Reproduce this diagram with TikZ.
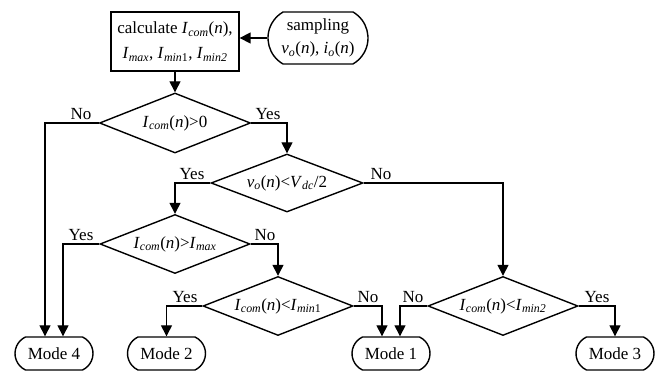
\documentclass[tikz,border=0pt]{standalone}
\usepackage{fontspec}
\setmainfont{Liberation Serif}
\usetikzlibrary{shapes.geometric,shapes.misc,arrows.meta}

% italic symbol with italic subscript
\newcommand\sym[2]{\textit{#1}\textsubscript{\textit{#2}}}
\newcommand\Icom{\sym{I}{com}(\textit{n})}

\begin{document}
\begin{tikzpicture}[x=1pt,y=-1pt,
  every node/.style={font=\fontsize{17}{26}\selectfont},
  flow/.style={line width=1.4pt,-{Triangle[length=11pt,width=11pt]}},
  procbox/.style={draw,line width=1.3pt,rectangle,minimum width=128pt,minimum height=59pt,inner sep=0pt,align=center},
  termbox/.style={draw,line width=1.4pt,rounded rectangle,rounded rectangle arc length=130,minimum width=78pt,minimum height=33pt,inner sep=0pt,align=center},
  decision/.style={draw,line width=1.4pt,diamond,minimum width=150pt,minimum height=59pt,inner sep=0pt},
  lbl/.style={anchor=base,inner sep=0pt}]
\useasboundingbox (0,0) rectangle (670,371);

% process and input
\node[procbox] (calc) at (175,41.5) {calculate \Icom,\\[-1pt] \sym{I}{max}, \textit{I}\textsubscript{\textit{min}1}, \textit{I}\textsubscript{\textit{min2}}};
\node[termbox,minimum width=100pt,minimum height=52pt,rounded rectangle arc length=120] (samp) at (318,38) {sampling\\[-3pt] \sym{v}{o}(\textit{n}), \sym{i}{o}(\textit{n})};

% decisions
\node[decision,minimum width=151pt,minimum height=60pt,label={center:\Icom>0}] (d1) at (175,123) {};
\node[decision,minimum width=152pt,minimum height=58pt,label={center:\sym{v}{o}(\textit{n})<\sym{V}{dc}/2}] (d2) at (287,183) {};
\node[decision,label={center:\Icom>\sym{I}{max}}] (d3) at (175,244) {};
\node[decision,label={center:\Icom<\textit{I}\textsubscript{\textit{min}1}}] (d5) at (278,306) {};
\node[decision,label={center:\Icom<\textit{I}\textsubscript{\textit{min2}}}] (d4) at (503,306) {};

% modes
\node[termbox] (m4) at (54,353.5) {Mode 4};
\node[termbox] (m2) at (166.5,353.5) {Mode 2};
\node[termbox] (m1) at (391,353.5) {Mode 1};
\node[termbox] (m3) at (615,353.5) {Mode 3};

% connectors
\draw[flow] (samp.west) -- (samp.west -| calc.east);
\draw[flow] (calc.south) -- (d1.north);
\draw[flow] (d1.west) -| ([xshift=-9pt]m4.north);
\draw[flow] (d1.east) -| (d2.north);
\draw[flow] (d2.west) -| (d3.north);
\draw[flow] (d2.east) -| (d4.north);
\draw[flow] (d3.west) -| ([xshift=9pt]m4.north);
\draw[flow] (d3.east) -| (d5.north);
\draw[flow] (d5.west) -| (m2.north);
\draw[flow] (d5.east) -| ([xshift=-9pt]m1.north);
\draw[flow] (d4.west) -| ([xshift=9pt]m1.north);
\draw[flow] (d4.east) -| (m3.north);

% branch labels
\node[lbl] (n1) at (81,119.5) {No};
\node[lbl] (y1) at (268,119.5) {Yes};
\node[lbl] (y2) at (192,179.5) {Yes};
\node[lbl] (n2) at (381,179.5) {No};
\node[lbl] (y3) at (81,240.5) {Yes};
\node[lbl] (n3) at (265,240.5) {No};
\node[lbl] (y5) at (185,302.5) {Yes};
\node[lbl] (n5) at (368,302.5) {No};
\node[lbl] (n4) at (413,302.5) {No};
\node[lbl] (y4) at (597,302.5) {Yes};
\end{tikzpicture}
\end{document}
